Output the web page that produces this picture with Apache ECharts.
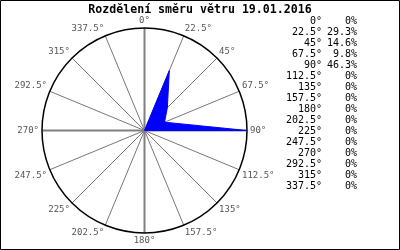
<!DOCTYPE html>
<html><head><meta charset="utf-8">
<script src="https://cdn.jsdelivr.net/npm/echarts@6/dist/echarts.min.js"></script>
<style>html,body{margin:0;padding:0;background:#fff}#c{width:400px;height:250px}</style>
</head><body><div id="c"></div>
<script>
var titleText = 'Rozdělení směru větru 19.01.2016';
var directions = [0, 22.5, 45, 67.5, 90, 112.5, 135, 157.5, 180, 202.5, 225, 247.5, 270, 292.5, 315, 337.5];
var dirLabels = ['0°','22.5°','45°','67.5°','90°','112.5°','135°','157.5°','180°','202.5°','225°','247.5°','270°','292.5°','315°','337.5°'];
var percents = [0, 29.3, 14.6, 9.8, 46.3, 0, 0, 0, 0, 0, 0, 0, 0, 0, 0, 0];
var pctLabels = ['0%','29.3%','14.6%','9.8%','46.3%','0%','0%','0%','0%','0%','0%','0%','0%','0%','0%','0%'];

var chart = echarts.init(document.getElementById('c'), null, {renderer:'canvas'});
var mono = '"DejaVu Sans Mono", monospace';
var center = [144.5, 130.5], rad = 102.5;
var maxR = Math.max.apply(null, percents);

var data = directions.map(function(d, i){ return [percents[i], d]; });
data.push([percents[0], 360]);

var graphics = [
  {type:'rect', shape:{x:0.5,y:0.5,width:399,height:249}, style:{fill:null, stroke:'#000', lineWidth:1}, z:100},
  {type:'text', x:200, y:10, style:{text:titleText, font:'bold 11.6px "DejaVu Sans Mono", monospace', fill:'#000', align:'center', verticalAlign:'middle'}}
];
dirLabels.forEach(function(lab, i){
  graphics.push({type:'text', x:322, y:21+11*i, style:{text:lab, font:'10px '+mono, fill:'#000', align:'right', verticalAlign:'middle'}});
  graphics.push({type:'text', x:357, y:21+11*i, style:{text:pctLabels[i], font:'10px '+mono, fill:'#000', align:'right', verticalAlign:'middle'}});
});

chart.setOption({
  animation:false,
  polar:[{center:center, radius:rad},{center:center, radius:rad}],
  angleAxis:[{
    polarIndex:0, type:'value', min:0, max:360, interval:22.5, startAngle:90, clockwise:true,
    axisLine:{show:true, lineStyle:{color:'#000', width:1.5}},
    axisTick:{show:false},
    axisLabel:{show:true, margin:3, color:'#555', fontFamily:mono, fontSize:9,
      formatter:function(v){ var i = directions.indexOf(v); return i>=0 ? dirLabels[i] : ''; }},
    splitLine:{show:true, lineStyle:{color:'#777', width:1}}
  },{
    polarIndex:1, type:'value', min:0, max:360, interval:90, startAngle:90, clockwise:true,
    axisLine:{show:false}, axisTick:{show:false}, axisLabel:{show:false},
    splitLine:{show:true, lineStyle:{color:'#808080', width:2}}
  }],
  radiusAxis:[{polarIndex:0, type:'value', min:0, max:maxR, axisLine:{show:false}, axisTick:{show:false}, axisLabel:{show:false}, splitLine:{show:false}},
              {polarIndex:1, type:'value', min:0, max:maxR, axisLine:{show:false}, axisTick:{show:false}, axisLabel:{show:false}, splitLine:{show:false}}],
  series:[{
    type:'line', coordinateSystem:'polar', polarIndex:0, data:data, symbol:'none', smooth:false,
    lineStyle:{color:'#0000ff', width:1}, areaStyle:{color:'#0000ff', opacity:1}, z:10
  }],
  graphic:graphics
});
</script></body></html>
